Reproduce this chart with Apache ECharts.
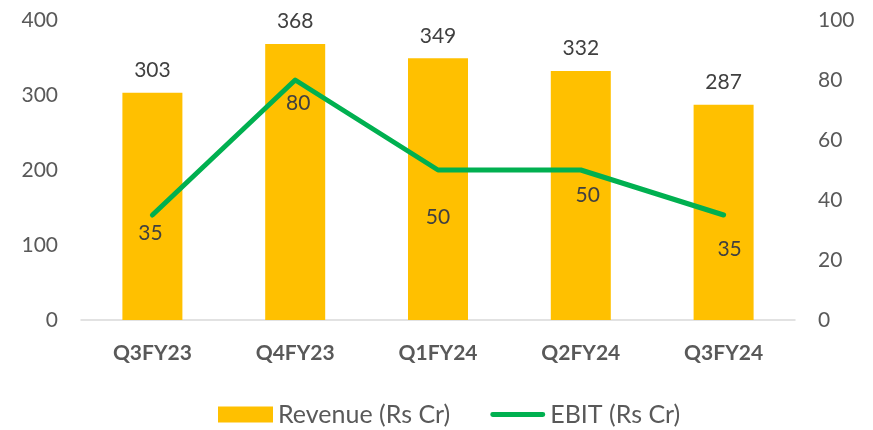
<!DOCTYPE html>
<html>
<head>
<meta charset="utf-8">
<script src="https://cdn.jsdelivr.net/npm/echarts@6/dist/echarts.min.js"></script>
<style>
  html, body { margin: 0; padding: 0; background: #fff; }
  #chart { width: 873px; height: 430px; }
</style>
</head>
<body>
<div id="chart"></div>
<script>
const quarters = ['Q3FY23', 'Q4FY23', 'Q1FY24', 'Q2FY24', 'Q3FY24']
const revenue = [303, 368, 349, 332, 287]
const ebit = [35, 80, 50, 50, 35]
// label nudges for the EBIT values (the source placed them by hand)
const ebitLabelOffsets = [[-2, 18], [3, 23], [0, 47], [7, 25], [6, 34]]

const font = 'Lato, "Open Sans", sans-serif'
const grey = '#595959'
const dark = '#404040'

const myChart = echarts.init(document.getElementById('chart'), null, { renderer: 'canvas' })
const option = {
  animation: false,
  textStyle: { fontFamily: font },
  grid: { left: 81, right: 78, top: 20, bottom: 110 },
  legend: {
    top: 397,
    left: 213,
    itemGap: 40,
    itemWidth: 55,
    itemHeight: 16,
    textStyle: { fontSize: 25, color: grey, fontFamily: font },
    data: [
      { name: 'Revenue (Rs Cr)', icon: 'rect' },
      { name: 'EBIT (Rs Cr)', icon: 'path://M2.5,0 H54.5 A2.5,2.5 0 0 1 54.5,5 H2.5 A2.5,2.5 0 0 1 2.5,0 Z' }
    ]
  },
  xAxis: {
    type: 'category',
    data: quarters,
    axisTick: { show: false },
    axisLine: { lineStyle: { color: '#d9d9d9', width: 1.5 } },
    axisLabel: { fontSize: 21, fontWeight: 'bold', color: grey, margin: 23, fontFamily: font }
  },
  yAxis: [
    {
      type: 'value', min: 0, max: 400, interval: 100,
      splitLine: { show: false },
      axisLabel: { fontSize: 21, color: grey, margin: 23, fontFamily: font }
    },
    {
      type: 'value', min: 0, max: 100, interval: 20,
      splitLine: { show: false },
      axisLabel: { fontSize: 21, color: grey, margin: 23, fontFamily: font }
    }
  ],
  series: [
    {
      name: 'Revenue (Rs Cr)',
      type: 'bar',
      data: revenue,
      barWidth: 60,
      itemStyle: { color: '#FFC000' },
      label: { show: true, position: 'top', distance: 12, fontSize: 21, color: dark, fontFamily: font }
    },
    {
      name: 'EBIT (Rs Cr)',
      type: 'line',
      yAxisIndex: 1,
      data: ebit.map((v, i) => ({
        value: v,
        label: { offset: ebitLabelOffsets[i] }
      })),
      symbol: 'circle',
      symbolSize: 1,
      lineStyle: { color: '#00B050', width: 5, cap: 'round', join: 'round' },
      itemStyle: { color: '#00B050' },
      label: { show: true, position: 'inside', fontSize: 21, color: dark, fontFamily: font }
    }
  ]
}
myChart.setOption(option)
</script>
</body>
</html>
